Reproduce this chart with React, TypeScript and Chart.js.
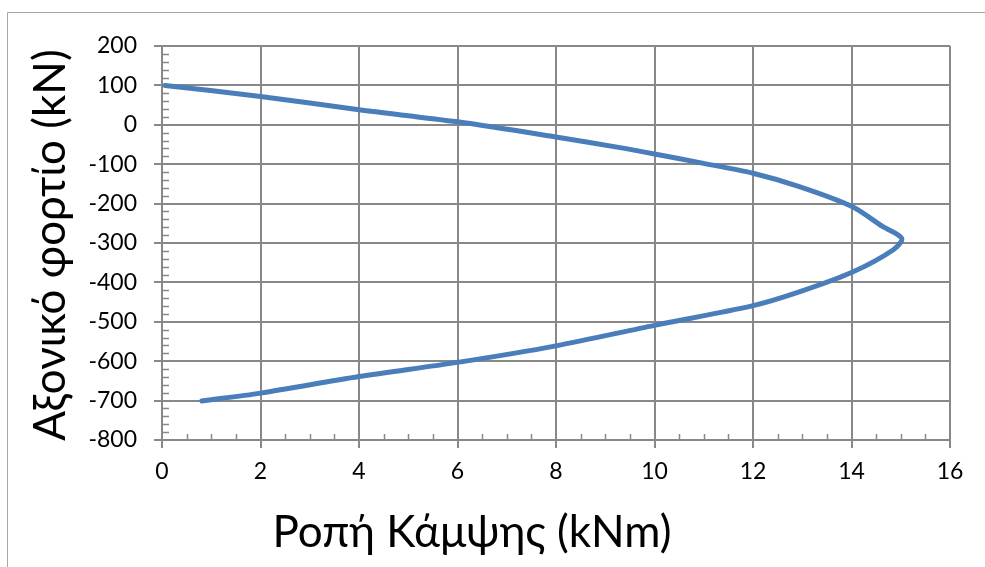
import React, { useEffect, useRef } from "react";
import { Chart, registerables } from "chart.js";

Chart.register(...registerables);

// Interaction curve: bending moment (kNm) vs axial load (kN)
const momentKNm = [0.06, 2, 4, 6, 8, 9.3, 10, 10.92, 12, 12.94, 14, 14.63, 15.02, 14.85, 14, 12.94, 12, 10, 8, 6, 4, 2, 0.81];
const axialKN = [100, 72, 38, 7.5, -31, -58, -74, -96, -123, -157, -207, -258, -288, -317, -375, -424, -459, -509, -561, -603, -639, -681, -701];

const xTitle = "Ροπή Κάμψης (kNm)";
const yTitle = "Αξονικό φορτίο (kN)";

const xMin = 0, xMax = 16, xStep = 2, xMinorStep = 0.5;
const yMin = -800, yMax = 200, yStep = 100, yMinorStep = 20;

const GRID = "#888888";
const FONT = "Lato, 'Open Sans', sans-serif";

const decorPlugin = {
  id: "decor",
  beforeDraw(chart: any) {
    const ctx = chart.ctx;
    ctx.save();
    ctx.strokeStyle = "#a6a6a6";
    ctx.lineWidth = 1;
    ctx.beginPath();
    ctx.moveTo(7.5, chart.height);
    ctx.lineTo(7.5, 12.5);
    ctx.lineTo(chart.width, 12.5);
    ctx.stroke();
    ctx.restore();
  },
  beforeDatasetsDraw(chart: any) {
    const ctx = chart.ctx;
    const xs = chart.scales.x;
    const ys = chart.scales.y;
    const area = chart.chartArea;
    ctx.save();
    ctx.strokeStyle = GRID;
    ctx.lineWidth = 1.5;
    ctx.beginPath();
    for (let v = yMin; v <= yMax; v += yMinorStep) {
      if (v % yStep === 0) continue;
      const p = Math.round(ys.getPixelForValue(v)) + 0.5;
      ctx.moveTo(area.left, p);
      ctx.lineTo(area.left + 7, p);
    }
    for (let v = xMin; v <= xMax; v += xMinorStep) {
      if (Math.abs(v % xStep) < 1e-9) continue;
      const p = Math.round(xs.getPixelForValue(v)) + 0.5;
      ctx.moveTo(p, area.bottom);
      ctx.lineTo(p, area.bottom - 6);
    }
    ctx.stroke();
    ctx.restore();
  },
  afterDraw(chart: any) {
    const ctx = chart.ctx;
    ctx.save();
    ctx.fillStyle = "#000000";
    ctx.font = `44px ${FONT}`;
    ctx.textAlign = "center";
    ctx.textBaseline = "alphabetic";
    ctx.fillText(xTitle, 472, 547);
    ctx.translate(65, 245);
    ctx.rotate(-Math.PI / 2);
    ctx.fillText(yTitle, 0, 0);
    ctx.restore();
  },
};

export default function App() {
  const ref = useRef<HTMLCanvasElement | null>(null);

  useEffect(() => {
    if (!ref.current) return;
    const points = momentKNm.map((m, i) => ({ x: m, y: axialKN[i] }));
    const chart = new Chart(ref.current, {
      type: "scatter",
      data: {
        datasets: [
          {
            data: points,
            showLine: true,
            borderColor: "#4a7ebb",
            backgroundColor: "#4a7ebb",
            borderWidth: 5,
            pointRadius: 0,
            tension: 0.3,
            borderCapStyle: "round",
            borderJoinStyle: "round",
          },
        ],
      },
      options: {
        animation: false,
        responsive: false,
        devicePixelRatio: 1,
        layout: { padding: { left: 0, top: 46, right: 35, bottom: 0 } },
        plugins: { legend: { display: false }, tooltip: { enabled: false } },
        scales: {
          x: {
            type: "linear",
            min: xMin,
            max: xMax,
            ticks: {
              stepSize: xStep,
              color: "#000000",
              font: { family: FONT, size: 23 },
              padding: 10,
            },
            grid: { color: GRID, lineWidth: 2, tickLength: 8 },
            border: { color: GRID, width: 2 },
            afterFit: (s: any) => {
              s.height = 127;
            },
          },
          y: {
            type: "linear",
            min: yMin,
            max: yMax,
            ticks: {
              stepSize: yStep,
              color: "#000000",
              font: { family: FONT, size: 23 },
              padding: 17,
            },
            grid: { color: GRID, lineWidth: 2, tickLength: 8 },
            border: { color: GRID, width: 2 },
            afterFit: (s: any) => {
              s.width = 162;
            },
          },
        },
      },
      plugins: [decorPlugin],
    });
    return () => chart.destroy();
  }, []);

  return (
    <div style={{ position: "fixed", left: 0, top: 0, width: 985, height: 567, background: "#ffffff" }}>
      <canvas ref={ref} width={985} height={567} style={{ display: "block", width: 985, height: 567 }} />
    </div>
  );
}
